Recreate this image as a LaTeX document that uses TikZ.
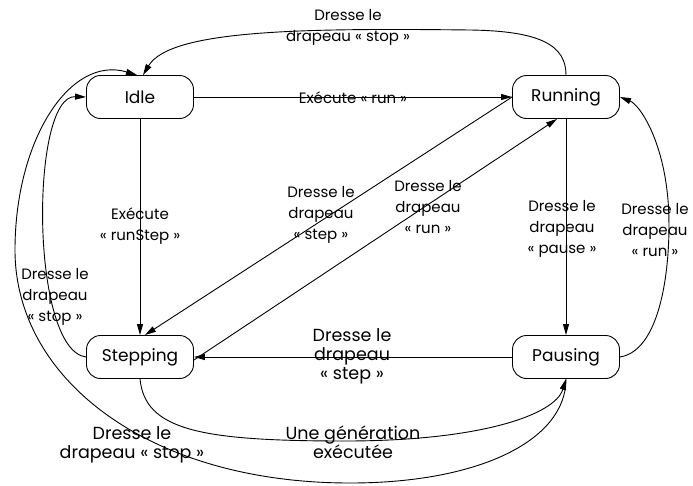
\documentclass[tikz,border=0pt]{standalone}
\usepackage{fontspec}
\setmainfont{Poppins}
\usetikzlibrary{arrows.meta}

\tikzset{
  state/.style={draw, line width=0.9pt, rounded corners=14pt, minimum width=107pt,
    minimum height=43pt, inner sep=0pt, font=\fontsize{17}{20}\selectfont},
  lbl/.style={align=center, inner sep=0pt, font=\fontsize{15}{21}\selectfont},
  biglbl/.style={align=center, inner sep=0pt, font=\fontsize{17.5}{19}\selectfont},
}

\begin{document}
\begin{tikzpicture}[x=1pt,y=-1pt,->,>={Triangle[length=11pt,width=6pt]},line width=0.9pt]
\useasboundingbox (0,0) rectangle (693,485);

% states
\node[state] (idle)  at (140,97)  {Idle};
\node[state] (run)   at (566,97)  {Running};
\node[state] (step)  at (140,357) {Stepping};
\node[state] (pause) at (566,357) {Pausing};

% straight transitions
\draw (idle) -- (run);
\draw (idle) -- (step);
\draw (run) -- (pause);
\draw (pause) -- (step);
\draw (run.west) -- ([xshift=5pt]step.north);
\draw ([yshift=-3pt]step.east) -- ([xshift=-9pt]run.south);

% curved transitions
\draw (run.north) .. controls (566,45) and (540,31) .. (470,30)
  .. controls (300,28) and (170,30) .. ([xshift=3pt]idle.north);
\draw (step.west) .. controls (30,350) and (30,95) .. (idle.west);
\draw (pause.east) .. controls (665,350) and (672,250) .. (668,200)
  .. controls (663,140) and (640,105) .. (run.east);
\draw (step.south) .. controls (145,430) and (200,441) .. (345,441)
  .. controls (480,441) and (555,415) .. (pause.south);
\draw (pause.south) .. controls (566,440) and (480,483) .. (350,483)
  .. controls (150,483) and (15,380) .. (15,250)
  .. controls (15,140) and (70,55) .. ([xshift=-3pt]idle.north);

% labels
\node[lbl] (l1) at (353,98)  {Exécute « run »};
\node[lbl] (l2) at (348,27)  {Dresse le\\drapeau « stop »};
\node[lbl] (l3) at (55,297)  {Dresse le\\drapeau\\« stop »};
\node[lbl] (l4) at (140,226) {Exécute\\« runStep »};
\node[lbl] (l5) at (321,215) {Dresse le\\drapeau\\« step »};
\node[lbl] (l6) at (428,207) {Dresse le\\drapeau\\« run »};
\node[lbl] (l7) at (562,229) {Dresse le\\drapeau\\« pause »};
\node[lbl] (l8) at (655,230) {Dresse le\\drapeau\\« run »};
\node[biglbl] (l9)  at (352,356) {Dresse le\\drapeau\\« step »};
\node[biglbl] (l10) at (353,442) {Une génération\\exécutée};
\node[biglbl] (l11) at (132,445) {Dresse le\\drapeau « stop »};

\end{tikzpicture}
\end{document}
